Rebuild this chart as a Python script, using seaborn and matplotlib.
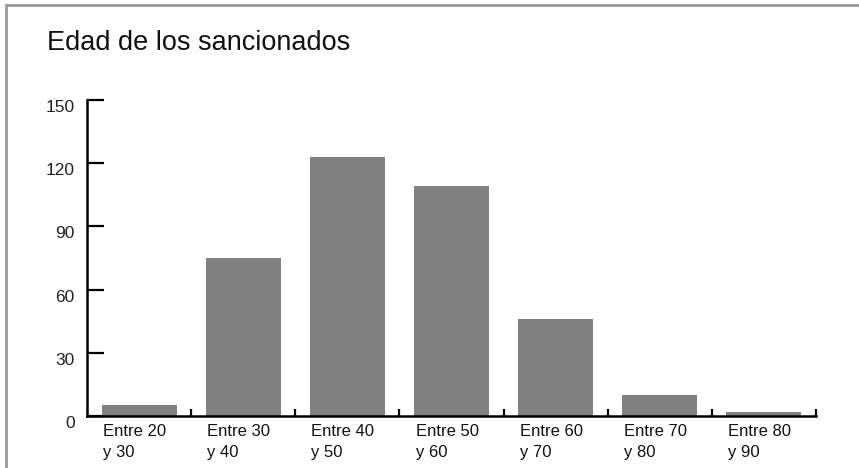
import matplotlib
matplotlib.use("Agg")
import matplotlib.pyplot as plt
import matplotlib.transforms as mtransforms
from matplotlib.lines import Line2D
import seaborn as sns
import pandas as pd

categories = ["Entre 20\ny 30", "Entre 30\ny 40", "Entre 40\ny 50", "Entre 50\ny 60",
              "Entre 60\ny 70", "Entre 70\ny 80", "Entre 80\ny 90"]
values = [5, 75, 123, 109, 46, 10, 2]
yticks = [0, 30, 60, 90, 120, 150]
title = "Edad de los sancionados"

sns.set_theme(style="white")
plt.rcParams["font.family"] = ["Liberation Sans", "DejaVu Sans"]

df = pd.DataFrame({"cat": categories, "val": values})

fig = plt.figure(figsize=(8.59, 4.68), dpi=100)
ax = fig.add_axes([87/859, 1-416/468, (816-87)/859, (416-100)/468])

sns.barplot(data=df, x="cat", y="val", color="#808080", saturation=1, width=0.72,
            linewidth=0, edgecolor="none", ax=ax)

ax.set_xlim(-0.5, 6.5)
ax.set_ylim(0, 150)
ax.set_xlabel("")
ax.set_ylabel("")

for s in ["top", "right"]:
    ax.spines[s].set_visible(False)
for s in ["left", "bottom"]:
    ax.spines[s].set_color("black")
    ax.spines[s].set_linewidth(1.8)
    ax.spines[s].set_zorder(5)

ax.set_yticks(yticks)
ax.set_yticklabels([str(v) for v in yticks], fontsize=12.5, color="#222222")
ax.tick_params(axis="y", left=True, direction="in", length=12.5, width=1.6, color="black", pad=9)

ax.set_xticks(range(len(categories)))
ax.set_xticklabels(categories, fontsize=12, color="#111111", ha="left", linespacing=1.45)
ax.tick_params(axis="x", which="major", bottom=True, length=0, pad=6)
ax.set_xticks([i + 0.5 for i in range(len(categories))], minor=True)
ax.tick_params(axis="x", which="minor", bottom=True, direction="in", length=5, width=1.6, color="black")

off_x = mtransforms.ScaledTranslation(-36/100, 0, fig.dpi_scale_trans)
for lab in ax.get_xticklabels():
    lab.set_transform(lab.get_transform() + off_x)
off_y = mtransforms.ScaledTranslation(0, -6/100, fig.dpi_scale_trans)
for lab in ax.get_yticklabels():
    lab.set_transform(lab.get_transform() + off_y)

fig.text(47/859, 1-49.5/468, title, fontsize=19.5, ha="left", va="baseline", color="#111111")

fig.add_artist(Line2D([5.5/859, 5.5/859], [0, 1-5/468], transform=fig.transFigure, color="#999999", lw=2))
fig.add_artist(Line2D([5.5/859, 1], [1-5/468, 1-5/468], transform=fig.transFigure, color="#999999", lw=2))

fig.savefig("out.png", dpi=100)
